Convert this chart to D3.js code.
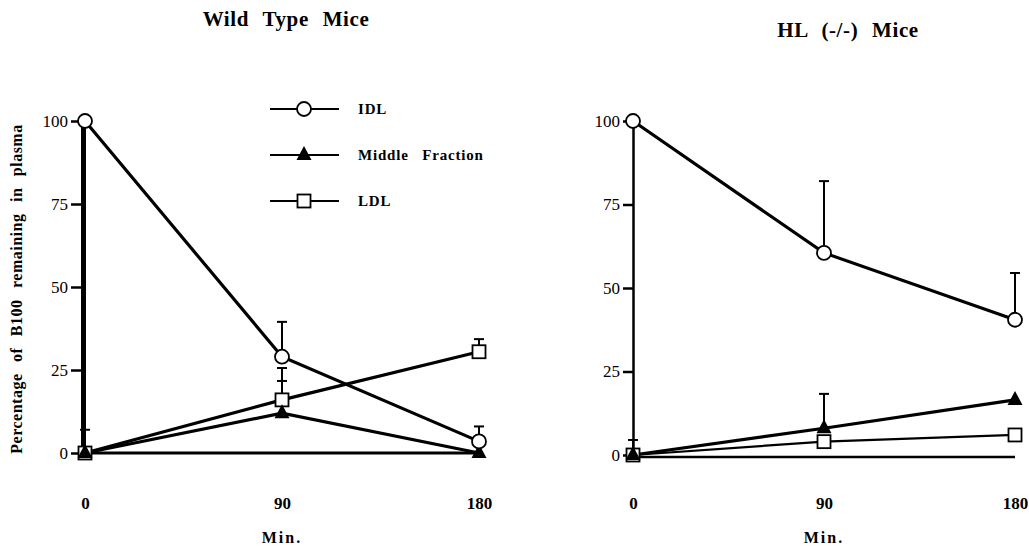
<!DOCTYPE html>
<html>
<head>
<meta charset="utf-8">
<script src="https://cdn.jsdelivr.net/npm/d3@7"></script>
<style>
  body { margin: 0; background: #fff; }
  svg { display: block; }
  svg text { font-family: "Liberation Serif", "DejaVu Serif", serif; }
</style>
</head>
<body>
<div class="canvas"></div>
<script>
// time points (min)
const minutes = [0, 90, 180];
const yTicks = [0, 25, 50, 75, 100];
const seriesNames = ['IDL', 'Middle   Fraction', 'LDL'];

// wild type mice
const wtIDL = [100, 29, 3.5];
const wtIDLErr = [null, 10.5, 4.5];
const wtMiddle = [0, 12, 0];
const wtMiddleErr = [7, 9.7, null];
const wtLDL = [0, 16, 30.5];
const wtLDLErr = [null, 9.6, 3.8];

// HL (-/-) mice
const hlIDL = [100, 60.5, 40.5];
const hlIDLErr = [null, 21.5, 14];
const hlMiddle = [0, 8, 16.5];
const hlMiddleErr = [4.5, 10.3, null];
const hlLDL = [0, 4, 6];
const hlLDLErr = [null, null, null];

const width = 1029, height = 546;
const svg = d3.select('.canvas').append('svg')
    .attr('width', width)
    .attr('height', height);

// draws a marker of given type at 0,0 inside g
const drawMarker = (g, type) => {
    if (type === 'circle') {
        g.append('circle').attr('r', 7)
            .attr('fill', '#fff').attr('stroke', '#000').attr('stroke-width', 1.8);
    } else if (type === 'triangle') {
        g.append('path').attr('d', 'M0,-9L7.5,5L-7.5,5Z').attr('fill', '#000');
    } else {
        g.append('rect').attr('x', -6.5).attr('y', -6.5).attr('width', 13).attr('height', 13)
            .attr('fill', '#fff').attr('stroke', '#000').attr('stroke-width', 1.8);
    }
};

const panel = (opts) => {
    const x = d3.scaleLinear().domain([0, 180]).range(opts.xRange);
    const y = d3.scaleLinear().domain([0, 100]).range(opts.yRange);
    const g = svg.append('g');

    // y axis
    const yAxis = d3.axisLeft(y).tickValues(yTicks).tickSize(opts.tickLen).tickSizeOuter(0).tickPadding(3);
    const ya = g.append('g')
        .attr('transform', `translate(${opts.xRange[0] - opts.axisGap},0)`)
        .call(yAxis)
        .attr('font-family', null);
    ya.select('.domain').attr('stroke-width', opts.axisWidth);
    ya.selectAll('.tick line').attr('stroke-width', 2.5);
    ya.selectAll('.tick text').attr('font-size', 17).attr('fill', '#000');

    // baseline
    g.append('line')
        .attr('x1', opts.xRange[0] - opts.axisGap).attr('x2', x(180))
        .attr('y1', y(0) + opts.baseOffset).attr('y2', y(0) + opts.baseOffset)
        .attr('stroke', '#000').attr('stroke-width', opts.baseWidth);

    // x tick labels
    const xAxis = d3.axisBottom(x).tickValues(minutes).tickSize(0).tickPadding(0);
    const xa = g.append('g')
        .attr('transform', `translate(0,${opts.xLabelY})`)
        .call(xAxis)
        .attr('font-family', null);
    xa.select('.domain').remove();
    xa.selectAll('.tick text').attr('font-size', 17).attr('font-weight', 'bold').attr('fill', '#000');

    g.append('text')
        .attr('x', x(90)).attr('y', 543)
        .attr('text-anchor', 'middle')
        .attr('font-size', 16).attr('font-weight', 'bold').attr('letter-spacing', 2)
        .text('Min.');

    g.append('text')
        .attr('x', opts.titleX).attr('y', opts.titleY)
        .attr('text-anchor', 'middle')
        .attr('font-size', 21).attr('font-weight', 'bold').attr('word-spacing', 8)
        .attr('letter-spacing', 0.6)
        .text(opts.title);

    const series = [
        { vals: opts.idl, err: opts.idlErr, type: 'circle', lw: 3.2 },
        { vals: opts.middle, err: opts.middleErr, type: 'triangle', lw: 3.2 },
        { vals: opts.ldl, err: opts.ldlErr, type: 'square', lw: opts.ldlWidth }
    ];

    const line = d3.line().x((d, i) => x(minutes[i])).y(d => y(d));

    series.forEach(s => {
        g.append('path')
            .attr('d', line(s.vals))
            .attr('fill', 'none').attr('stroke', '#000').attr('stroke-width', s.lw);
    });

    // error bars (upward only)
    series.forEach(s => {
        s.err.forEach((e, i) => {
            if (e == null) return;
            const cx = x(minutes[i]);
            const top = y(s.vals[i] + e);
            g.append('line')
                .attr('x1', cx).attr('x2', cx)
                .attr('y1', y(s.vals[i])).attr('y2', top)
                .attr('stroke', '#000').attr('stroke-width', 2);
            g.append('line')
                .attr('x1', cx - 5).attr('x2', cx + 5)
                .attr('y1', top).attr('y2', top)
                .attr('stroke', '#000').attr('stroke-width', 2);
        });
    });

    series.slice().reverse().forEach(s => {
        s.vals.forEach((v, i) => {
            const m = g.append('g').attr('transform', `translate(${x(minutes[i])},${y(v)})`);
            drawMarker(m, s.type);
        });
    });
};

panel({
    xRange: [85, 479], yRange: [453, 121], axisGap: 2, tickLen: 12, axisWidth: 5,
    baseOffset: 0, baseWidth: 3, xLabelY: 497, ldlWidth: 3.2,
    title: 'Wild Type Mice', titleX: 286, titleY: 26,
    idl: wtIDL, idlErr: wtIDLErr, middle: wtMiddle, middleErr: wtMiddleErr, ldl: wtLDL, ldlErr: wtLDLErr
});

panel({
    xRange: [633, 1015], yRange: [455, 121], axisGap: 0, tickLen: 10, axisWidth: 2.5,
    baseOffset: 2, baseWidth: 2.5, xLabelY: 497, ldlWidth: 2.2,
    title: 'HL (-/-) Mice', titleX: 848, titleY: 37,
    idl: hlIDL, idlErr: hlIDLErr, middle: hlMiddle, middleErr: hlMiddleErr, ldl: hlLDL, ldlErr: hlLDLErr
});

// y axis title
svg.append('text')
    .attr('transform', 'translate(22,289) rotate(-90)')
    .attr('text-anchor', 'middle')
    .attr('font-size', 16).attr('font-weight', 'bold').attr('word-spacing', 7)
    .attr('letter-spacing', 0.5)
    .text('Percentage of B100 remaining in plasma');

// legend
const legendTypes = ['circle', 'triangle', 'square'];
const legend = svg.append('g').attr('transform', 'translate(270,109)');
seriesNames.forEach((name, i) => {
    const row = legend.append('g').attr('transform', `translate(0,${i * 46})`);
    row.append('line').attr('x1', 0).attr('x2', 69).attr('y1', 0).attr('y2', 0)
        .attr('stroke', '#000').attr('stroke-width', 2.2);
    const m = row.append('g').attr('transform', `translate(34,0)`);
    drawMarker(m, legendTypes[i]);
    row.append('text')
        .attr('x', 88).attr('y', 5)
        .attr('font-size', 15).attr('font-weight', 'bold').attr('letter-spacing', 0.8)
        .attr('xml:space', 'preserve')
        .style('white-space', 'pre')
        .text(name);
});
</script>
</body>
</html>
